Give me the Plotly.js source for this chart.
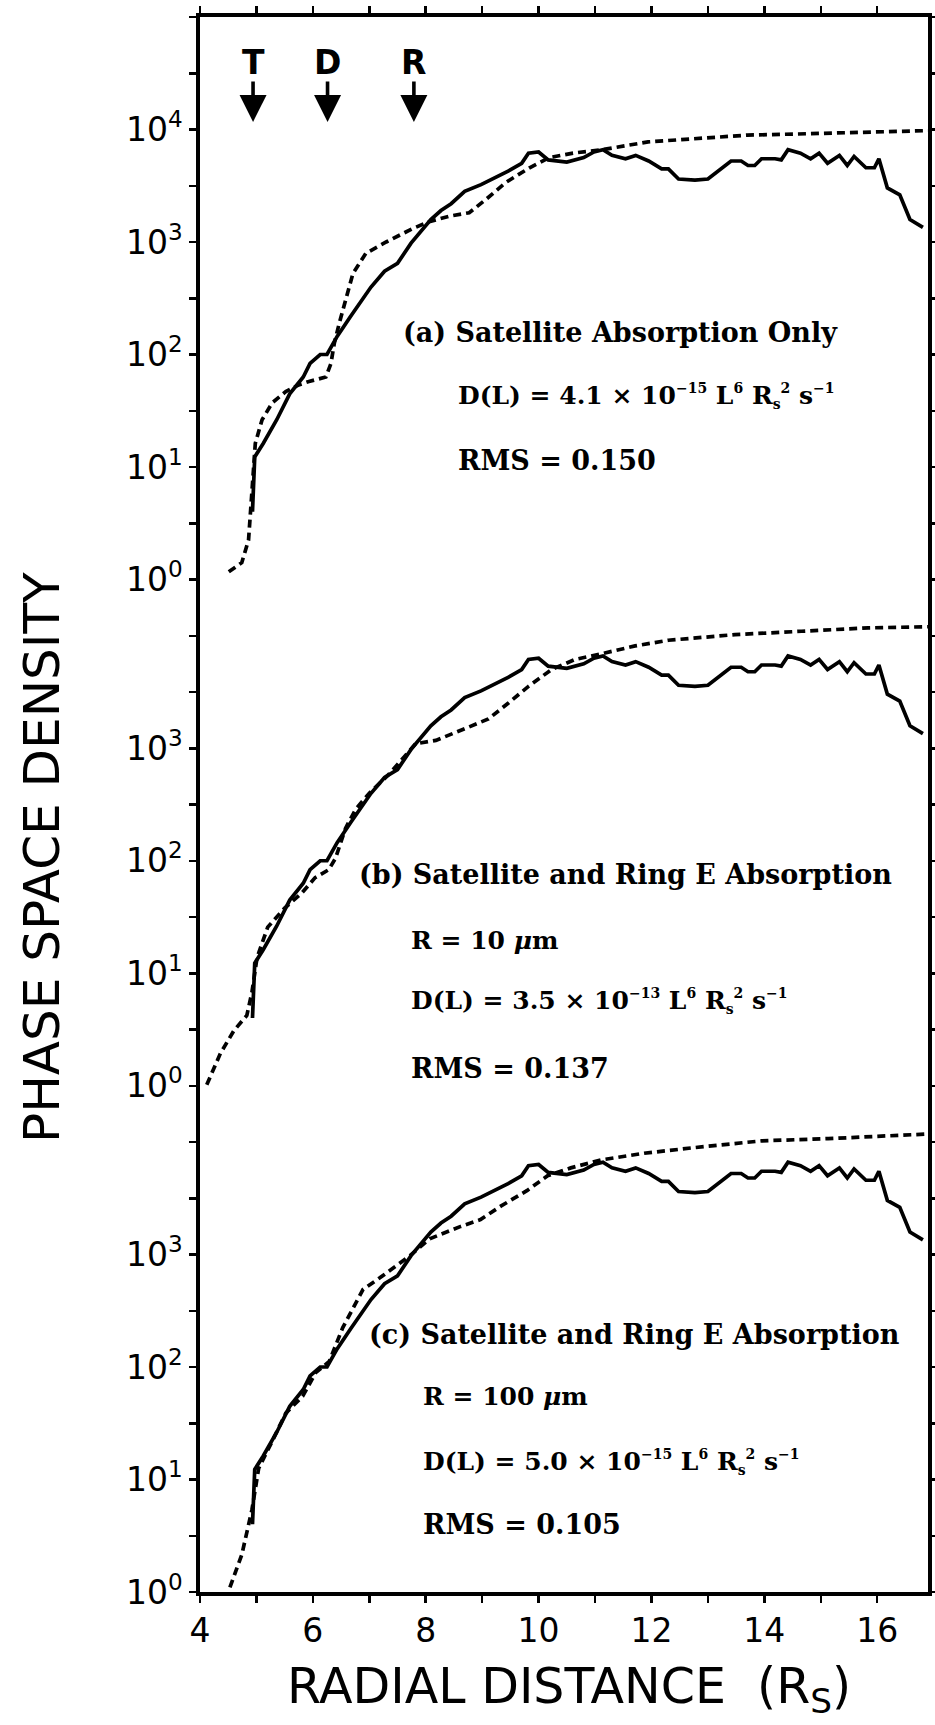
<!DOCTYPE html>
<html>
<head>
<meta charset="utf-8">
<script src="https://cdn.plot.ly/plotly-3.0.1.min.js"></script>
<style>
  html, body { margin: 0; padding: 0; background: #fff; }
  #chart { width: 935px; height: 1725px; }
</style>
</head>
<body>
<div id="chart"></div>
<script>
// Observed phase space density versus radial distance (Saturn radii)
const obsL = [4.93, 4.95, 4.97, 5.12, 5.36, 5.59, 5.83, 5.95, 6.13, 6.25,
              6.43, 6.67, 7.03, 7.27, 7.50, 7.74, 8.09, 8.27, 8.45, 8.69,
              8.98, 9.46, 9.70, 9.82, 10.00, 10.17, 10.50, 10.80, 10.98, 11.14,
              11.30, 11.54, 11.72, 11.95, 12.18, 12.30, 12.48, 12.77, 13.00, 13.41,
              13.59, 13.71, 13.83, 13.95, 14.19, 14.30, 14.42, 14.64, 14.82, 14.97,
              15.12, 15.33, 15.47, 15.59, 15.80, 15.95, 16.03, 16.18, 16.40, 16.58,
              16.81];
const obsPSD = [4.0, 7.1, 12.3, 16.2, 26.3, 44.7, 63.1, 83.2, 100, 100,
                145, 219, 398, 550, 646, 977, 1585, 1905, 2188, 2818,
                3236, 4266, 5012, 6166, 6310, 5370, 5129, 5623, 6310, 6607,
                5888, 5495, 5888, 5248, 4467, 4467, 3631, 3548, 3631, 5248,
                5248, 4786, 4786, 5495, 5495, 5370, 6607, 6166, 5495, 6166,
                5012, 5888, 4786, 5754, 4571, 4571, 5495, 3020, 2630, 1585,
                1349];

// (a) model: satellite absorption only
const modelAL = [4.51, 4.74, 4.86, 4.92, 4.98, 5.10, 5.28, 5.52, 5.75, 5.93,
                 6.23, 6.32, 6.38, 6.47, 6.59, 6.71, 6.94, 7.30, 7.77, 8.06,
                 8.42, 8.77, 9.07, 9.42, 9.84, 10.19, 10.61, 11.12, 11.94, 12.82,
                 13.70, 14.58, 15.47, 16.35, 16.90];
const modelAPSD = [1.17, 1.41, 2.24, 5.9, 16.2, 26.3, 37.2, 46.8, 53.7, 57.5,
                   63.1, 83.2, 126, 191, 324, 525, 794, 1000, 1318, 1514,
                   1698, 1820, 2399, 3388, 4571, 5623, 6166, 6607, 7762, 8318,
                   8913, 9120, 9333, 9550, 9772];

// (b) model: satellite and ring E absorption, R = 10 um
const modelBL = [4.12, 4.36, 4.60, 4.83, 4.92, 5.01, 5.20, 5.50, 5.80, 6.04,
                 6.28, 6.40, 6.58, 6.76, 7.00, 7.35, 7.82, 8.18, 8.77, 9.11,
                 9.46, 9.82, 10.23, 10.65, 11.12, 11.71, 12.30, 13.48, 14.66, 15.84,
                 16.90];
const modelBPSD = [1.02, 1.93, 3.09, 4.22, 6.76, 13.7, 25.7, 38.0, 51.3, 70.8,
                   83.2, 105, 195, 288, 398, 589, 1096, 1175, 1549, 1820,
                   2512, 3548, 5012, 6166, 6918, 8128, 9120, 10233, 10965, 11749,
                   12023];

// (c) model: satellite and ring E absorption, R = 100 um
const modelCL = [4.53, 4.74, 4.92, 5.04, 5.28, 5.52, 5.82, 6.05, 6.29, 6.53,
                 6.89, 7.18, 7.72, 8.07, 8.62, 8.97, 9.33, 9.80, 10.16, 10.57,
                 11.10, 11.87, 12.76, 13.95, 15.13, 16.85];
const modelCPSD = [1.10, 2.14, 5.37, 12.6, 21.9, 38.9, 55.0, 89.1, 112, 224,
                   490, 617, 977, 1380, 1778, 2042, 2692, 3715, 5012, 5888,
                   6918, 7943, 8913, 10233, 10715, 11749];

// Decade labels shown on each panel's part of the shared log axis
const panelAExps = [0, 1, 2, 3, 4];
const panelBExps = [0, 1, 2, 3];
const panelCExps = [0, 1, 2, 3];

// Radial distance ticks: labelled every 2, small ticks every 1
const xLabelVals = [4, 6, 8, 10, 12, 14, 16];
const xLabelText = ['4', '6', '8', '10', '12', '14', '16'];

// Satellite markers along the top
const moonNames = ['T', 'D', 'R'];
const moonL = [4.94, 6.26, 7.79];

// Small raised text used inside the diffusion-coefficient lines
const sm = s => '<sup><span style="font-size:14px">' + s + '</span></sup>';
const smSub = s => '<sub><span style="font-size:14px">' + s + '</span></sub>';
const dLine = (coef, exp) =>
  'D(L) = ' + coef + ' × 10' + sm('−' + exp) + ' L' + sm('6') +
  ' R' + smSub('s') + sm('2') + ' s' + sm('−1');

// Panel legends
const panelATexts = ['(a) Satellite Absorption Only', dLine('4.1', '15'), 'RMS = 0.150'];
const panelBTexts = ['(b) Satellite and Ring E Absorption', 'R = 10 <i>μ</i>m',
  dLine('3.5', '13'), 'RMS = 0.137'];
const panelCTexts = ['(c) Satellite and Ring E Absorption', 'R = 100 <i>μ</i>m',
  dLine('5.0', '15'), 'RMS = 0.105'];

// ---- layout geometry ----
const W = 935, H = 1725;
const M = { l: 200, r: 7, t: 17, b: 133 };
const plotW = W - M.l - M.r, plotH = H - M.t - M.b;
const px = v => (v - M.l) / plotW;          // page x (px) -> paper
const py = v => (H - M.b - v) / plotH;      // page y (px) -> paper

// Panels are stacked on one log axis, each lifted by a number of decades
const SHIFT_A = 9, SHIFT_B = 4.5, SHIFT_C = 0;
const lift = (arr, s) => arr.map(v => v * Math.pow(10, s));

// Labelled decades per panel, plus small ticks every half decade
const yLabelVals = [], yLabelText = [];
[[panelCExps, SHIFT_C], [panelBExps, SHIFT_B], [panelAExps, SHIFT_A]].forEach(([exps, s]) => {
  exps.forEach(e => {
    yLabelVals.push(Math.pow(10, e + s));
    yLabelText.push('10<sup>' + e + '</sup>');
  });
});
const yMinorVals = [];
for (let k = 0; k <= 28; k++) yMinorVals.push(Math.pow(10, k / 2));

const solid = { color: '#000', width: 3.7 };
const dashed = { color: '#000', width: 3.7, dash: '8px,5px' };

const traces = [
  { x: obsL, y: lift(obsPSD, SHIFT_A), mode: 'lines', line: solid },
  { x: modelAL, y: lift(modelAPSD, SHIFT_A), mode: 'lines', line: dashed },
  { x: obsL, y: lift(obsPSD, SHIFT_B), mode: 'lines', line: solid },
  { x: modelBL, y: lift(modelBPSD, SHIFT_B), mode: 'lines', line: dashed },
  { x: obsL, y: lift(obsPSD, SHIFT_C), mode: 'lines', line: solid },
  { x: modelCL, y: lift(modelCPSD, SHIFT_C), mode: 'lines', line: dashed }
].map(t => Object.assign(t, { type: 'scatter', showlegend: false, hoverinfo: 'skip' }));

const headFont = { family: 'DejaVu Serif', size: 27, color: '#000', weight: 'bold' };
const eqFont = { family: 'DejaVu Serif', size: 25, color: '#000', weight: 'bold' };
const annotations = [];
function addLines(texts, xs, ys) {
  texts.forEach((t, i) => {
    const isEq = t.startsWith('D(L)') || t.startsWith('R =');
    annotations.push({
      text: t, xref: 'paper', yref: 'paper', x: px(xs[i]), y: py(ys[i]),
      xanchor: 'left', yanchor: 'middle', showarrow: false,
      font: isEq ? eqFont : headFont
    });
  });
}
addLines(panelATexts, [401, 456, 456], [333, 396, 461]);
addLines(panelBTexts, [357, 409, 409, 409], [874, 940, 1001, 1068]);
addLines(panelCTexts, [367, 421, 421, 421], [1334, 1396, 1462, 1524]);

moonNames.forEach((n, i) => {
  annotations.push({
    text: n, xref: 'x', yref: 'paper', x: moonL[i], y: py(62),
    xanchor: 'center', yanchor: 'middle', showarrow: false,
    font: { family: 'DejaVu Sans', size: 33, color: '#000', weight: 'bold' }
  });
  annotations.push({
    text: '', xref: 'x', yref: 'paper', x: moonL[i], y: py(122),
    showarrow: true, ax: 0, ay: -42, arrowhead: 2, arrowsize: 1.5,
    arrowwidth: 3.6, arrowcolor: '#000'
  });
});

// Axis titles
annotations.push({
  text: 'PHASE SPACE DENSITY', xref: 'paper', yref: 'paper',
  x: px(42), y: py(858), textangle: -90, showarrow: false,
  xanchor: 'center', yanchor: 'middle',
  font: { family: 'DejaVu Sans', size: 50, color: '#000' }
});
annotations.push({
  text: 'RADIAL DISTANCE  (R<sub>S</sub>)', xref: 'paper', yref: 'paper',
  x: px(569), y: py(1689), showarrow: false,
  xanchor: 'center', yanchor: 'middle',
  font: { family: 'DejaVu Sans', size: 49, color: '#000' }
});

const axisCommon = {
  showline: true, linewidth: 3.6, linecolor: '#000', mirror: 'ticks',
  ticks: 'outside', ticklen: 7, tickwidth: 2.5, tickcolor: '#000',
  showgrid: false, zeroline: false,
  tickfont: { family: 'DejaVu Sans', size: 33, color: '#000' }
};
const minorCommon = { ticks: 'outside', ticklen: 7, tickwidth: 2.5, tickcolor: '#000', showgrid: false };

const layout = {
  width: W, height: H,
  margin: M,
  paper_bgcolor: '#fff', plot_bgcolor: '#fff',
  xaxis: Object.assign({}, axisCommon, {
    range: [4, 16.9], tickmode: 'array', tickvals: xLabelVals, ticktext: xLabelText,
    minor: Object.assign({}, minorCommon, { tickmode: 'linear', tick0: 4, dtick: 1 })
  }),
  yaxis: Object.assign({}, axisCommon, {
    type: 'log', range: [0, 14], tickmode: 'array', tickvals: yLabelVals, ticktext: yLabelText,
    minor: Object.assign({}, minorCommon, { tickmode: 'array', tickvals: yMinorVals })
  }),
  annotations: annotations
};

Plotly.newPlot('chart', traces, layout, { staticPlot: true, displayModeBar: false });
</script>
</body>
</html>
